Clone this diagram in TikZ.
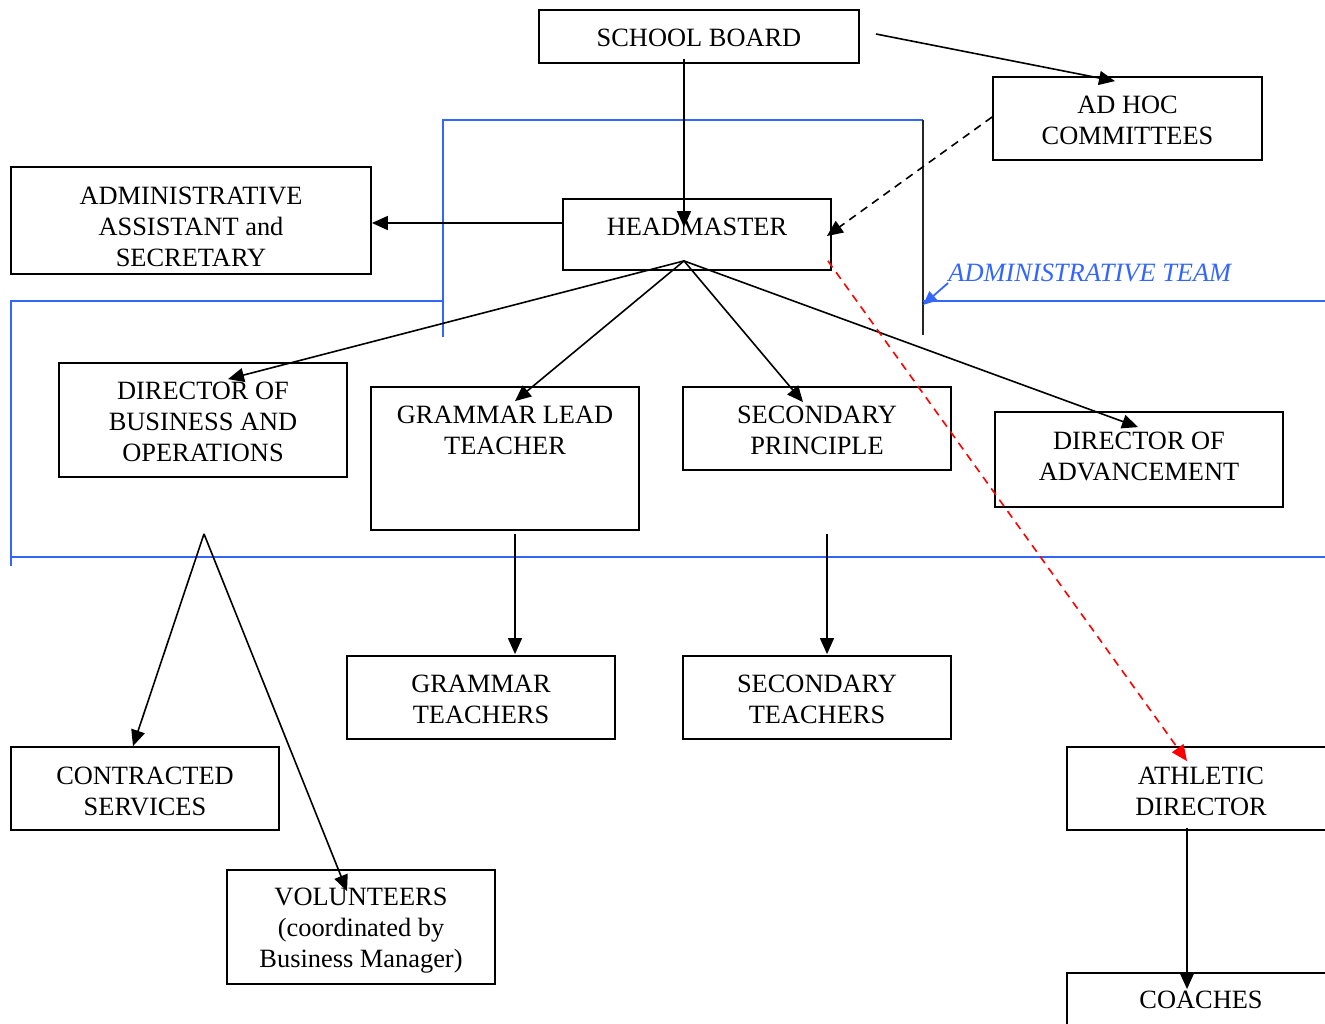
\documentclass[tikz,border=0pt]{standalone}
\usepackage{fontspec}
\setmainfont{Liberation Serif}
\usetikzlibrary{arrows.meta,calc}
\definecolor{teamblue}{RGB}{51,102,255}
\newcommand\lowr[1]{\rule{0pt}{#1pt}}
\newcommand\upr{\rule[-3.5pt]{0pt}{0pt}}
\begin{document}
\begin{tikzpicture}[x=0.5pt,y=-0.5pt,
  box/.style={draw,line width=0.9pt,rectangle,inner sep=0pt,align=center,
    font=\fontsize{13.2}{15.5}\selectfont},
  txt/.style={inner sep=0pt,align=center,font=\fontsize{13.2}{15.5}\selectfont},
  arr/.style={line width=0.8pt,-{Triangle[length=8pt,width=7pt]}},
  dasharr/.style={arr,dash pattern=on 4pt off 3pt},
  redarr/.style={line width=0.8pt,red,dash pattern=on 4pt off 3pt,-{Triangle[length=8pt,width=7pt]}},
  teamline/.style={teamblue,line width=0.8pt},
]
\useasboundingbox (0,0) rectangle (1325,1023);

% boxes
\node[box,minimum width=160pt,minimum height=26.5pt] (sb) at (699,36.5) {\lowr{10}SCHOOL BOARD};
\node[box,minimum width=134.5pt,minimum height=41.5pt] (adhoc) at (1127.5,118.5) {\lowr{10.5}AD HOC\\COMMITTEES};
\node[box,minimum width=180pt,minimum height=53.5pt] (aa) at (191,220.5) {\lowr{15}ADMINISTRATIVE\\ASSISTANT and\\SECRETARY};
\node[box,minimum width=134pt,minimum height=35.5pt] (hm) at (697,234.5) {};
\node[txt] (hmt) at (697,227) {HEADMASTER};
\node[box,minimum width=144pt,minimum height=57pt] (dbo) at (203,420) {\lowr{10.5}DIRECTOR OF\\BUSINESS AND\\OPERATIONS};
\node[box,minimum width=134pt,minimum height=71.5pt] (glt) at (505,458.5) {};
\node[txt] (gltt) at (505,430) {GRAMMAR LEAD\\TEACHER};
\node[box,minimum width=134pt,minimum height=41.5pt] (sp) at (817,428.5) {\lowr{10.5}SECONDARY\\PRINCIPLE};
\node[box,minimum width=144pt,minimum height=47.5pt] (da) at (1139,459.5) {DIRECTOR OF\\ADVANCEMENT\upr};
\node[box,minimum width=134pt,minimum height=41.5pt] (gt) at (481,697.5) {\lowr{10.5}GRAMMAR\\TEACHERS};
\node[box,minimum width=134pt,minimum height=41.5pt] (st) at (817,697.5) {\lowr{10.5}SECONDARY\\TEACHERS};
\node[box,minimum width=134pt,minimum height=41.5pt] (cs) at (145,788.5) {\lowr{12}CONTRACTED\\SERVICES};
\node[box,minimum width=134pt,minimum height=57pt] (vol) at (361,927) {\lowr{12}VOLUNTEERS\\(coordinated by\\Business Manager)};
\node[box,minimum width=134pt,minimum height=41.5pt] (ad) at (1201,788.5) {\lowr{12}ATHLETIC\\DIRECTOR};
\node[box,minimum width=134pt,minimum height=41.5pt] (co) at (1201,1014.5) {};
\node[txt] (cot) at (1201,1000) {COACHES};

% administrative team outline
\draw[teamline] (443,337) -- (443,120) -- (923,120);
\draw[line width=0.9pt,black!85] (923,120) -- (923,335);
\draw[teamline] (443,301) -- (11,301) -- (11,566);
\draw[teamline] (11,557) -- (1325,557);
\draw[teamline] (923,301) -- (1325,301);
\node[inner sep=0pt,font=\fontsize{13.2}{15.5}\selectfont\itshape,text=teamblue,anchor=west] (atl) at (948,273) {ADMINISTRATIVE TEAM};
\coordinate (atp) at (923,305);
\draw[teamblue,line width=0.9pt,-{Triangle[length=7pt,width=6pt]}] ($(atl.west)+(0,10)$) -- (atp);

% connectors
\coordinate (hmb) at ($(hm.south)+(-13,-10)$);
\coordinate (dbob) at ($(dbo.south)+(1,56)$);
\draw[arr] ($(sb.south)+(-15,-5)$) -- ($(hm.north)+(-13,29)$);
\draw[arr] ($(sb.east)+(16,-2.5)$) -- ($(adhoc.north)+(-12.5,5)$);
\draw[dasharr] ($(adhoc.west)+(0,-1.5)$) -- ($(hm.east)+(-5,1.5)$);
\draw[arr] ($(hm.west)+(0,-11.5)$) -- ($(aa.east)+(0,2.5)$);
\draw[arr] (hmb) -- ($(dbo.north)+(25,17)$);
\draw[arr] (hmb) -- ($(glt.north)+(10,15)$);
\draw[arr] (hmb) -- ($(sp.north)+(-14,16)$);
\draw[arr] (hmb) -- ($(da.north)+(-1,16)$);
\draw[redarr] ($(hm.south east)+(-4,-10)$) -- ($(ad.north)+(-14,15)$);
\draw[arr] ($(glt.south)+(10,3)$) -- ($(gt.north)+(34,-1)$);
\draw[arr] ($(sp.south)+(10,63)$) -- ($(st.north)+(10,-1)$);
\draw[arr] (dbob) -- ($(cs.north)+(-12,0)$);
\draw[arr] (dbob) -- ($(vol.north)+(-14,22)$);
\draw[arr] ($(ad.south)+(-14,-3)$) -- ($(co.north)+(-14,17)$);
\end{tikzpicture}
\end{document}
